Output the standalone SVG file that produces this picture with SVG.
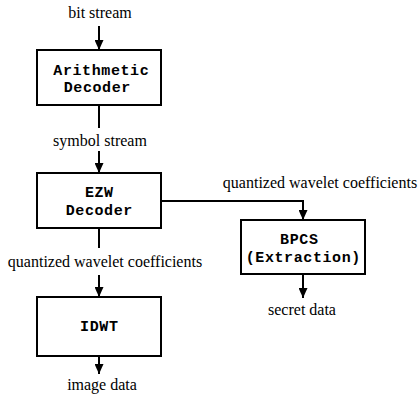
<svg xmlns="http://www.w3.org/2000/svg" width="420" height="397" viewBox="0 0 420 397">
<style>
.box{fill:#fff;stroke:#000;stroke-width:2}
.lbl{font-family:"Liberation Serif","Times New Roman",serif;font-size:16px;fill:#000;text-anchor:middle}
.mono{font-family:"Liberation Mono","Courier New",monospace;font-size:15px;letter-spacing:0.6px;font-weight:bold;fill:#000;text-anchor:middle}
.ln{fill:none;stroke:#000;stroke-width:2}
</style>
<defs>
<marker id="ah" markerUnits="userSpaceOnUse" markerWidth="10" markerHeight="9" refX="10" refY="4.5" orient="auto">
<path d="M0,0 L10,4.5 L0,9 z" fill="#000"/>
</marker>
</defs>
<rect width="420" height="397" fill="#fff"/>
<g id="connectors">
<line class="ln" x1="99" y1="26" x2="99" y2="50" marker-end="url(#ah)"/>
<line class="ln" x1="99" y1="105" x2="99" y2="128"/>
<line class="ln" x1="99" y1="151" x2="99" y2="173" marker-end="url(#ah)"/>
<line class="ln" x1="99" y1="228" x2="99" y2="248"/>
<line class="ln" x1="99" y1="275" x2="99" y2="297" marker-end="url(#ah)"/>
<line class="ln" x1="99" y1="356" x2="99" y2="374" marker-end="url(#ah)"/>
<polyline class="ln" points="161,201 303,201 303,220" marker-end="url(#ah)"/>
<line class="ln" x1="303" y1="274" x2="303" y2="298" marker-end="url(#ah)"/>
</g>
<g id="labels">
<text class="lbl" x="100" y="18">bit stream</text>
<text class="lbl" x="100" y="146">symbol stream</text>
<text class="lbl" x="105" y="267">quantized wavelet coefficients</text>
<text class="lbl" x="320" y="188">quantized wavelet coefficients</text>
<text class="lbl" x="102" y="390">image data</text>
<text class="lbl" x="302" y="315">secret data</text>
</g>
<g id="arith">
<rect class="box" x="37" y="50" width="124" height="55"/>
<text class="mono" x="101.3" y="75">Arithmetic</text>
<text class="mono" x="97.3" y="92">Decoder</text>
</g>
<g id="ezw">
<rect class="box" x="37" y="173" width="124" height="55"/>
<text class="mono" x="99.3" y="197">EZW</text>
<text class="mono" x="99.3" y="215">Decoder</text>
</g>
<g id="idwt">
<rect class="box" x="37" y="297" width="124" height="59"/>
<text class="mono" x="99.3" y="331">IDWT</text>
</g>
<g id="bpcs">
<rect class="box" x="241" y="220" width="124" height="54"/>
<text class="mono" x="299.3" y="244">BPCS</text>
<text class="mono" x="303.3" y="262">(Extraction)</text>
</g>
</svg>
